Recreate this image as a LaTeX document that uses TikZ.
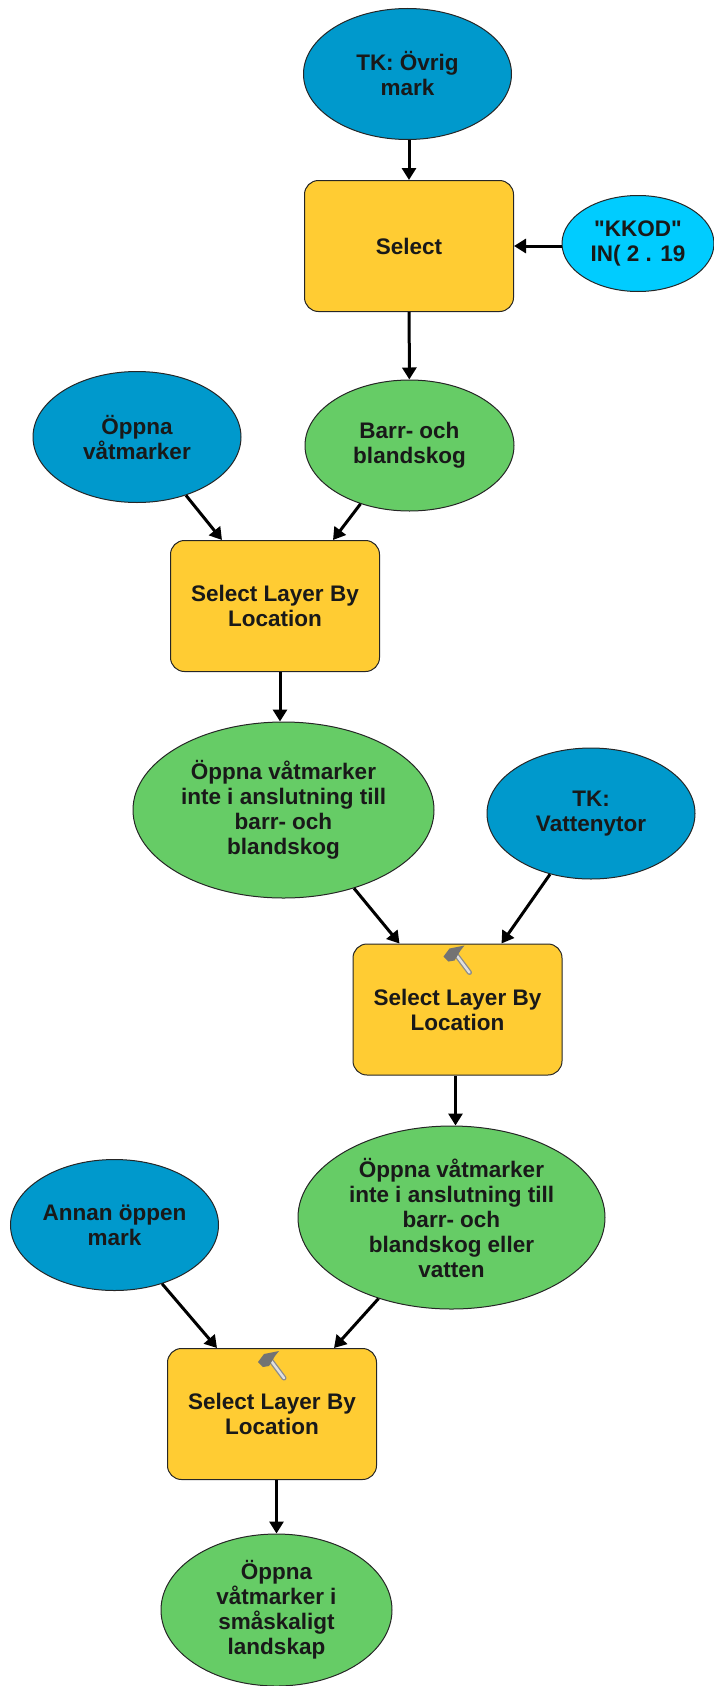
\documentclass[tikz,border=0pt]{standalone}
\usepackage{fontspec}
\setmainfont{Liberation Sans}
\newfontfamily\straightquotes{Liberation Sans}
\definecolor{inputblue}{RGB}{0, 153, 204}
\definecolor{valueblue}{RGB}{0, 204, 255}
\definecolor{toolyellow}{RGB}{255, 204, 51}
\definecolor{outputgreen}{RGB}{102, 204, 102}
\usetikzlibrary{shapes.geometric, arrows.meta, positioning, calc}
\tikzset{
  blob/.style={ellipse, draw=black!85, line width=1pt, inner sep=0pt, align=center, font=\fontsize{22.5}{25}\selectfont\bfseries, text=black!90},
  inputdata/.style={blob, fill=inputblue, minimum width=208pt, minimum height=131pt},
  valuedata/.style={blob, fill=valueblue, minimum width=152pt, minimum height=96pt},
  outputdata/.style={blob, fill=outputgreen},
  tool/.style={draw=black!85, line width=1pt, fill=toolyellow, rounded corners=14pt, minimum width=209pt, minimum height=131pt, inner sep=0pt, align=center, font=\fontsize{22.5}{25}\selectfont\bfseries, text=black!90},
  flow/.style={line width=3pt, -{Triangle[length=12pt,width=14pt]}},
  hammer/.pic={
    \draw[line width=5pt, black!45, line cap=round] (-3,-7) -- (12,13);
    \draw[line width=2.4pt, black!12, line cap=round] (-3,-7) -- (12,13);
    \fill[black!55] (-14,-3) -- (-8,-11) -- (7,-14) -- (3,-9) -- (-3,1) -- (-9,2) -- cycle;
  }
}
\begin{document}
\begin{tikzpicture}[x=1pt, y=-1pt]
  \useasboundingbox (0, 0) rectangle (714, 1686);

  % First selection
  \node[inputdata] (ovrig) at (407.5, 74) {TK: Övrig\\mark};
  \node[tool] (select) at (409, 246) {Select};
  \node[valuedata] (kkod) at (638, 243.5) {{\straightquotes\bfseries "KKOD"}\\IN( 2 . 19};
  \node[outputdata, minimum width=209pt, minimum height=131pt] (barr) at (409.5, 445.5) {Barr- och\\blandskog};

  % Second selection
  \node[inputdata] (oppna) at (137, 437) {Öppna\\våtmarker};
  \node[tool] (lager1) at (275, 606) {Select Layer By\\Location};
  \node[outputdata, minimum width=301pt, minimum height=176pt] (inteBarr) at (283.5, 810) {Öppna våtmarker\\inte i anslutning till\\barr- och\\blandskog};

  % Third selection
  \node[inputdata] (vatten) at (591, 813.5) {TK:\\Vattenytor};
  \node[tool] (lager2) at (457.5, 1009.5) {Select Layer By\\Location};
  \node[outputdata, minimum width=307pt, minimum height=183pt] (inteVatten) at (451.5, 1217.5) {Öppna våtmarker\\inte i anslutning till\\barr- och\\blandskog eller\\vatten};

  % Last selection
  \node[inputdata] (annan) at (114.5, 1225) {Annan öppen\\mark};
  \node[tool] (lager3) at (272, 1414) {Select Layer By\\Location};
  \node[outputdata, minimum width=231pt, minimum height=152pt] (landskap) at (276.5, 1610) {Öppna\\våtmarker i\\småskaligt\\landskap};

  % Hammer icons
  \pic at ($(lager2.north)+(0,16)$) {hammer};
  \pic at ($(lager3.north)+(0,17)$) {hammer};

  % Connectors
  \draw[flow] (select.north |- ovrig.south) -- (select.north);
  \draw[flow] (kkod.west |- select) -- (select.east);
  \draw[flow] (select) -- (barr);
  \draw[flow] (oppna.-50) -- ($(lager1.north)+(-53,0)$);
  \draw[flow] (barr.-130) -- ($(lager1.north)+(58,0)$);
  \draw[flow] ($(lager1.south)+(5,0)$) -- ($(lager1.south |- inteBarr.north)+(5,0)$);
  \draw[flow] (inteBarr.-48) -- ($(lager2.north)+(-58,0)$);
  \draw[flow] (vatten.-124) -- ($(lager2.north)+(44,0)$);
  \draw[flow] ($(lager2.south)+(-2,0)$) -- ($(lager2.south |- inteVatten.north)+(-2,0)$);
  \draw[flow] (annan.-51) -- ($(lager3.north)+(-55,0)$);
  \draw[flow] (inteVatten.-132) -- ($(lager3.north)+(62,0)$);
  \draw[flow] (lager3.south -| landskap) -- (landskap.north);
\end{tikzpicture}
\end{document}
